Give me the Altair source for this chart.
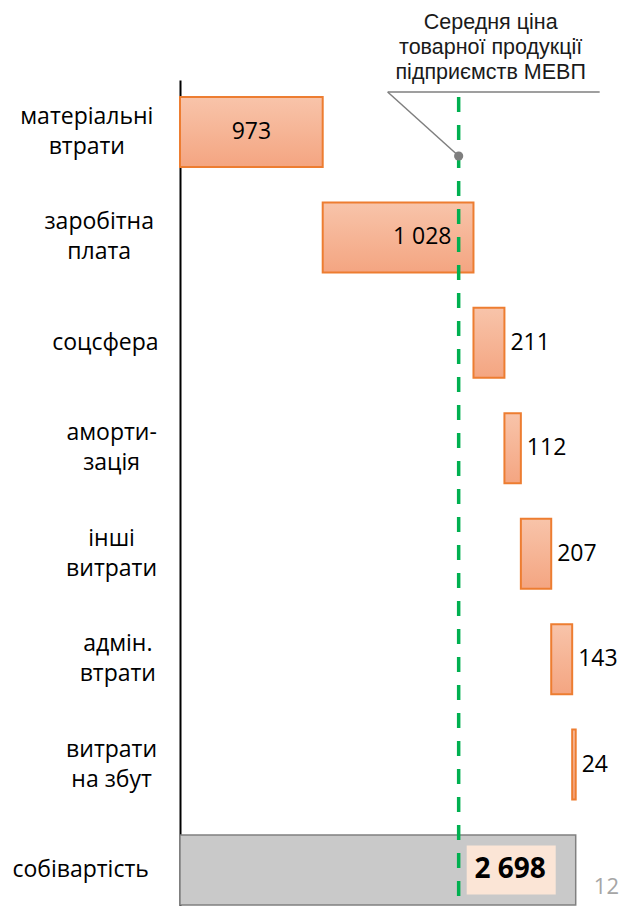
import altair as alt
import pandas as pd

# ---- data ----
categories = ["матеріальні\nвтрати", "заробітна\nплата", "соцсфера", "аморти-\nзація",
              "інші\nвитрати", "адмін.\nвтрати", "витрати\nна збут"]
values = [973, 1028, 211, 112, 207, 143, 24]
total_category = "собівартість"
avg_price = 1900
annotation_text = "Середня ціна\nтоварної продукції\nпідприємств МЕВП"
page_number = "12"

# ---- layout constants ----
W, H = 440, 826
X_MAX = 3000
PX = W / X_MAX
FONT = "Open Sans"
LABEL_LH = 30

def fmt(v):
    return f"{v:,}".replace(",", " ")

order = categories + [total_category]

rows, start = [], 0
for c, v in zip(categories, values):
    rows.append({"cat": c, "start": start, "end": start + v, "value": v, "label": fmt(v)})
    start += v
steps = pd.DataFrame(rows)
total = pd.DataFrame([{"cat": total_category, "start": 0, "end": start, "value": start, "label": fmt(start)}])

labels = pd.DataFrame({"cat": order})
labels["lines"] = labels["cat"].apply(lambda s: len(s.split("\n")))
labels["maxlen"] = labels["cat"].apply(lambda s: max(len(t) for t in s.split("\n")))
labels["lab_x"] = -(25 + 6.2 * labels["maxlen"]) / PX

avg_df = pd.DataFrame({"avg": [avg_price]})

xscale = alt.Scale(domain=[0, X_MAX], nice=False, zero=True)
yenc = alt.Y("cat:N", sort=order,
             scale=alt.Scale(domain=order, range=[0, 842], paddingInner=0.336, paddingOuter=0.161),
             axis=alt.Axis(labels=False, ticks=False, title=None, grid=False,
                           domainColor="black", domainWidth=2))

grad = alt.Gradient(gradient="linear",
                    stops=[alt.GradientStop(color="#F8C4AA", offset=0),
                           alt.GradientStop(color="#F4A581", offset=1)],
                    x1=0, x2=0, y1=0, y2=1)

base_steps = alt.Chart(steps)
bars = base_steps.mark_bar(fill=grad, stroke="#ED7D31", strokeWidth=2).encode(
    x=alt.X("start:Q", scale=xscale, axis=None), x2="end:Q", y=yenc)

lab_center = base_steps.transform_filter("datum.start == 0").transform_calculate(
    mid="(datum.start + datum.end) / 2").mark_text(
    font=FONT, fontSize=23, color="black", align="center", baseline="middle").encode(
    x=alt.X("mid:Q", scale=xscale, axis=None), y=yenc, text="label:N")

lab_inside = base_steps.transform_filter("datum.start > 0 && datum.value >= 500").mark_text(
    font=FONT, fontSize=23, color="black", align="right", baseline="middle", dx=-22).encode(
    x=alt.X("end:Q", scale=xscale, axis=None), y=yenc, text="label:N")

lab_outside = base_steps.transform_filter("datum.value < 500").mark_text(
    font=FONT, fontSize=23, color="black", align="left", baseline="middle", dx=6).encode(
    x=alt.X("end:Q", scale=xscale, axis=None), y=yenc, text="label:N")

base_total = alt.Chart(total)
total_bar = base_total.mark_bar(fill="#C9C9C9", stroke="#808080", strokeWidth=1.5).encode(
    x=alt.X("start:Q", scale=xscale, axis=None), x2="end:Q", y=yenc)
total_box = base_total.mark_bar(fill="#FBE5D6", height=49, xOffset=-109, x2Offset=-20).encode(
    x=alt.X("end:Q", scale=xscale, axis=None), x2="end:Q", y=yenc)
total_text = base_total.mark_text(font=FONT, fontSize=28, fontWeight="bold", color="black",
                                  align="right", baseline="middle", dx=-30).encode(
    x=alt.X("end:Q", scale=xscale, axis=None), y=yenc, text="label:N")

base_labels = alt.Chart(labels)
cat_labels_1 = base_labels.transform_filter("datum.lines == 1").mark_text(
    font=FONT, fontSize=23, color="black", align="center", baseline="middle").encode(
    x=alt.X("lab_x:Q", scale=xscale, axis=None), y=yenc, text="cat:N")
cat_labels_2 = base_labels.transform_filter("datum.lines == 2").mark_text(
    font=FONT, fontSize=23, color="black", align="center", baseline="middle",
    lineBreak="\n", lineHeight=LABEL_LH, dy=-LABEL_LH / 2).encode(
    x=alt.X("lab_x:Q", scale=xscale, axis=None), y=yenc, text="cat:N")

base_avg = alt.Chart(avg_df)
avg_line = base_avg.mark_rule(color="#00B050", strokeWidth=3.5, strokeDash=[15, 13]).encode(
    x=alt.X("avg:Q", scale=xscale, axis=None), y=alt.value(17), y2=alt.value(850))
leader_diag = base_avg.mark_rule(color="#7F7F7F", strokeWidth=1.5, xOffset=-71).encode(
    x=alt.X("avg:Q", scale=xscale, axis=None), x2="avg:Q", y=alt.value(12), y2=alt.value(76))
leader_h = base_avg.mark_rule(color="#7F7F7F", strokeWidth=1.5, xOffset=-71, x2Offset=141).encode(
    x=alt.X("avg:Q", scale=xscale, axis=None), x2="avg:Q", y=alt.value(12))
leader_pt = base_avg.mark_circle(color="#7F7F7F", opacity=1, size=85).encode(
    x=alt.X("avg:Q", scale=xscale, axis=None), y=alt.value(76))
ann = base_avg.mark_text(font="Liberation Sans", fontSize=21.5, color="#1a1a1a", align="center",
                         baseline="alphabetic", lineBreak="\n", lineHeight=25, dx=32).encode(
    x=alt.X("avg:Q", scale=xscale, axis=None), y=alt.value(-51), text=alt.value(annotation_text))

page = base_avg.mark_text(font=FONT, fontSize=22, color="#A6A6A6", align="right",
                          baseline="middle").encode(
    x=alt.value(439), y=alt.value(807), text=alt.value(page_number))

chart = alt.layer(
    bars, total_bar, avg_line, total_box, total_text,
    lab_center, lab_inside, lab_outside, cat_labels_1, cat_labels_2,
    leader_diag, leader_h, leader_pt, ann, page
).properties(
    width=W, height=H,
    autosize=alt.AutoSizeParams(type="none"),
    padding={"left": 172, "top": 72, "right": 0, "bottom": 0},
).configure_view(stroke=None)

chart.save("out.html", embed_options={"renderer": "svg", "actions": False})
